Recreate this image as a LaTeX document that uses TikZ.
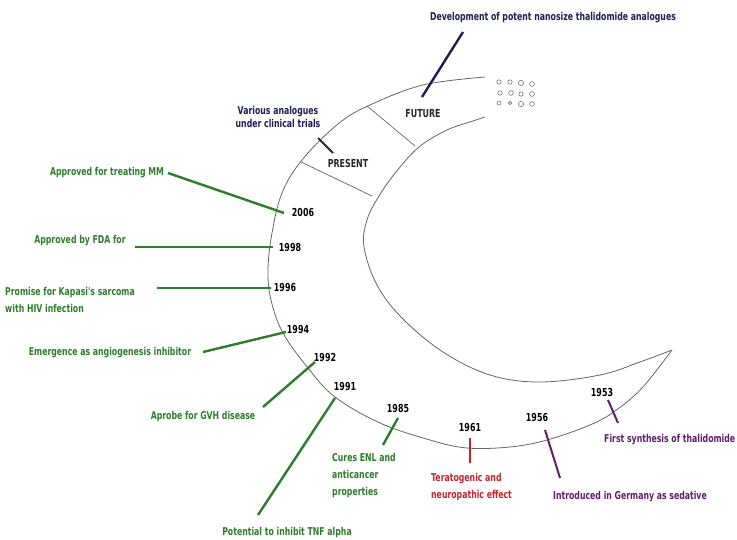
\documentclass[tikz,border=0pt]{standalone}
\usepackage{fontspec}
\newfontfamily\labfont{DejaVu Sans}[FakeStretch=0.72]
\definecolor{grn}{RGB}{45,125,45}
\definecolor{navy}{RGB}{30,30,85}
\definecolor{purp}{RGB}{95,30,110}
\definecolor{redc}{RGB}{195,35,45}
\begin{document}
\begin{tikzpicture}[x=1pt,y=-1pt,
  outline/.style={draw=black!60, line width=0.8pt},
  divider/.style={draw=black!60, line width=0.7pt},
  yr/.style={font=\labfont\bfseries\fontsize{11}{11}\selectfont, text=black, inner sep=0pt},
  era/.style={font=\labfont\bfseries\fontsize{11}{11}\selectfont, text=black!85, inner sep=0pt},
  lab/.style={font=\labfont\bfseries\fontsize{10.8}{17}\selectfont, inner sep=0pt},
  glab/.style={lab, text=grn},
  nlab/.style={lab, text=navy},
  plab/.style={lab, text=purp},
  rlab/.style={lab, text=redc},
  gline/.style={draw=grn, line width=2.4pt},
  nline/.style={draw=navy, line width=2.4pt},
  kline/.style={draw=black!85, line width=2pt},
  pline/.style={draw=purp, line width=2pt},
  rline/.style={draw=redc, line width=1.6pt},
  dot/.style={draw=black!55, line width=0.6pt}
]
\useasboundingbox (0,0) rectangle (737,540);
\fill[white] (0,0) rectangle (737,540);

% crescent outline
\draw[outline] plot[smooth, tension=0.6] coordinates {
  (485,77) (423,85) (370,105) (338,124) (302,160) (282,193) (272,233)
  (268,270) (271,300) (283,333) (308,368) (335,397) (380,423) (430,440)
  (467,448) (510,447) (547,440) (590,425) (615,411) (642,388) (672,350)};
\draw[outline] plot[smooth, tension=0.6] coordinates {
  (672,350) (640,362) (600,375) (540,382) (490,375) (443,352) (402,318)
  (377,285) (364,247) (367,220) (379,196) (396,172) (419,147) (447,130)
  (473,121) (485,117)};
\draw[divider] (301,162) -- (372,196);
\draw[divider] (367,106) -- (415,146);

% dots
\foreach \x/\y/\r in {499/82/2.2, 510/82/2.2, 521/83/2.6, 532/84/2.4,
                      500/93/2.2, 511/93/2.4, 521/94/2.2, 532/94/2.4,
                      499/103/2, 510/103/1.6, 521/104/2.6, 532/104/2.4}
  \draw[dot] (\x,\y) circle (\r);

% eras
\node[era] (future) at (423,114) {FUTURE};
\node[era] (present) at (348,163) {PRESENT};

% years
\node[yr] (y2006) at (303,212) {2006};
\node[yr] (y1998) at (290,247) {1998};
\node[yr] (y1996) at (285,288) {1996};
\node[yr] (y1994) at (298,330) {1994};
\node[yr] (y1992) at (325,357) {1992};
\node[yr] (y1991) at (345,387) {1991};
\node[yr] (y1985) at (398,408) {1985};
\node[yr] (y1961) at (470,428) {1961};
\node[yr] (y1956) at (537,418) {1956};
\node[yr] (y1953) at (602,392) {1953};

% labels
\node[nlab] (dev) at (553,18) {Development of potent nanosize thalidomide analogues};
\node[nlab, align=center] (various) at (278,117) {Various analogues\\[-4pt]under clinical trials};
\node[glab] (mm) at (107,173) {Approved for treating MM};
\node[glab] (fda) at (80,241) {Approved by FDA for};
\node[glab, align=left, anchor=north west] (kap) at (5,287) {Promise for Kapasi's sarcoma\\with HIV infection};
\node[glab] (angio) at (110,353) {Emergence as angiogenesis inhibitor};
\node[glab] (gvh) at (203,417) {Aprobe for GVH disease};
\node[glab] (tnf) at (287,533) {Potential to inhibit TNF alpha};
\node[glab, align=left, anchor=north west] (enl) at (332,453) {Cures ENL and\\anticancer\\properties};
\node[rlab, align=left, anchor=north west] (terat) at (431,473) {Teratogenic and\\neuropathic effect};
\node[plab] (sed) at (630,497) {Introduced in Germany as sedative};
\node[plab, anchor=west] (synth) at (604,440) {First synthesis of thalidomide};

% connector end points
\coordinate (dA) at (463,32);  \coordinate (dB) at (422,97);
\coordinate (vA) at (318,138); \coordinate (vB) at (333,153);
\coordinate (a06) at (168,173); \coordinate (b06) at (284,213);
\coordinate (a98) at (135,247); \coordinate (b98) at (273,247);
\coordinate (a96) at (157,288); \coordinate (b96) at (271,288);
\coordinate (a94) at (203,352); \coordinate (b94) at (286,332);
\coordinate (a92) at (315,362); \coordinate (b92) at (263,407);
\coordinate (a91) at (335,398); \coordinate (b91) at (258,515);
\coordinate (a85) at (398,418); \coordinate (b85) at (383,445);
\coordinate (a61) at (470,438); \coordinate (b61) at (470,463);
\coordinate (a56) at (545,430); \coordinate (b56) at (560,478);
\coordinate (a53) at (608,400); \coordinate (b53) at (618,423);

\draw[nline] (dA) -- (dB);
\draw[kline] (vA) -- (vB);
\draw[gline] (a06) -- (b06);
\draw[gline] (a98) -- (b98);
\draw[gline] (a96) -- (b96);
\draw[gline] (a94) -- (b94);
\draw[gline] (a92) -- (b92);
\draw[gline] (a91) -- (b91);
\draw[gline] (a85) -- (b85);
\draw[rline] (a61) -- (b61);
\draw[pline] (a56) -- (b56);
\draw[pline] (a53) -- (b53);
\end{tikzpicture}
\end{document}
